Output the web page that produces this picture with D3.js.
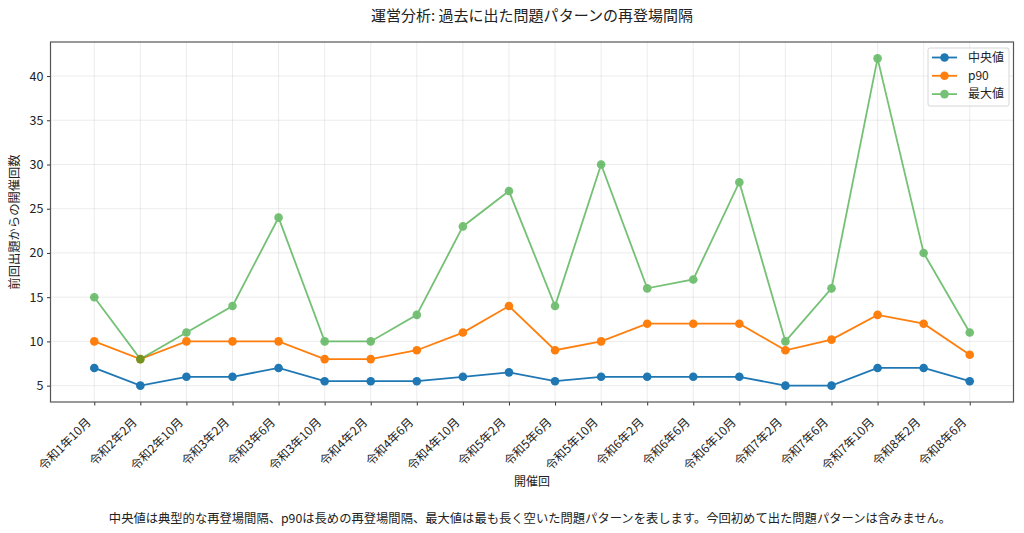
<!DOCTYPE html>
<html>
<head>
<meta charset="utf-8">
<script src="https://cdn.jsdelivr.net/npm/d3@7"></script>
<style>
  body { margin: 0; background: #fff; }
  svg, svg text { font-family: "Noto Sans CJK JP", "DejaVu Sans", sans-serif; }
</style>
</head>
<body>
<svg id="chart"></svg>
<script>
const categories = ["令和1年10月", "令和2年2月", "令和2年10月", "令和3年2月", "令和3年6月",
  "令和3年10月", "令和4年2月", "令和4年6月", "令和4年10月", "令和5年2月",
  "令和5年6月", "令和5年10月", "令和6年2月", "令和6年6月", "令和6年10月",
  "令和7年2月", "令和7年6月", "令和7年10月", "令和8年2月", "令和8年6月"];
const median = [7, 5, 6, 6, 7, 5.5, 5.5, 5.5, 6, 6.5, 5.5, 6, 6, 6, 6, 5, 5, 7, 7, 5.5];
const p90 = [10, 8, 10, 10, 10, 8, 8, 9, 11, 14, 9, 10, 12, 12, 12, 9, 10.2, 13, 12, 8.5];
const maxVal = [15, 8, 11, 14, 24, 10, 10, 13, 23, 27, 14, 30, 16, 17, 28, 10, 16, 42, 20, 11];
const yTicks = [5, 10, 15, 20, 25, 30, 35, 40];

const series = [
  { name: "中央値", values: median, color: "#1f77b4", alpha: 1 },
  { name: "p90", values: p90, color: "#ff7f0e", alpha: 1 },
  { name: "最大値", values: maxVal, color: "#2ca02c", alpha: 0.65 }
];

const W = 1024, H = 533;
const pLeft = 50.5, pRight = 1013.5, pTop = 42, pBottom = 402;
const FONT = '"Noto Sans CJK JP", "DejaVu Sans", sans-serif';

const svg = d3.select("#chart").attr("width", W).attr("height", H);

const n = categories.length;
const x = d3.scaleLinear().domain([-0.95, n - 1 + 0.95]).range([pLeft, pRight]);
const all = median.concat(p90, maxVal);
const lo = d3.min(all), hi = d3.max(all), pad = (hi - lo) * 0.05;
const y = d3.scaleLinear().domain([lo - pad, hi + pad]).range([pBottom, pTop]);

// grid
const grid = svg.append("g");
grid.selectAll(".gx").data(d3.range(n)).join("line")
  .attr("x1", d => x(d)).attr("x2", d => x(d))
  .attr("y1", pTop).attr("y2", pBottom)
  .attr("stroke", "#b0b0b0").attr("stroke-opacity", 0.3).attr("stroke-width", 0.8);
grid.selectAll(".gy").data(yTicks).join("line")
  .attr("x1", pLeft).attr("x2", pRight)
  .attr("y1", d => y(d)).attr("y2", d => y(d))
  .attr("stroke", "#b0b0b0").attr("stroke-opacity", 0.3).attr("stroke-width", 0.8);

// axes
const xAxis = svg.append("g")
  .attr("transform", `translate(0,${pBottom})`)
  .call(d3.axisBottom(x).tickValues(d3.range(n)).tickFormat(i => categories[i]).tickSize(3.5));
xAxis.attr("font-family", FONT);
xAxis.select(".domain").remove();
xAxis.selectAll("line").attr("stroke", "#333");
xAxis.selectAll("text")
  .attr("font-size", 12).attr("fill", "#222")
  .attr("text-anchor", "end")
  .attr("x", 0).attr("y", 0).attr("dy", null)
  .attr("transform", "translate(-3,21) rotate(-45)");

const yAxis = svg.append("g")
  .attr("transform", `translate(${pLeft},0)`)
  .call(d3.axisLeft(y).tickValues(yTicks).tickSize(3.5).tickPadding(3.5));
yAxis.attr("font-family", FONT);
yAxis.select(".domain").remove();
yAxis.selectAll("line").attr("stroke", "#333");
yAxis.selectAll("text").attr("font-size", 12.5).attr("fill", "#222");

// lines and markers
const line = d3.line().x((d, i) => x(i)).y(d => y(d));
series.forEach(s => {
  const g = svg.append("g").attr("opacity", s.alpha);
  g.append("path").datum(s.values)
    .attr("d", line).attr("fill", "none")
    .attr("stroke", s.color).attr("stroke-width", 1.8);
  g.selectAll("circle").data(s.values).join("circle")
    .attr("cx", (d, i) => x(i)).attr("cy", d => y(d))
    .attr("r", 4.3).attr("fill", s.color);
});

// frame
svg.append("rect")
  .attr("x", pLeft).attr("y", pTop)
  .attr("width", pRight - pLeft).attr("height", pBottom - pTop)
  .attr("fill", "none").attr("stroke", "#555").attr("stroke-width", 1.2);

// legend
const lg = svg.append("g").attr("transform", "translate(928,48)");
lg.append("rect").attr("width", 81).attr("height", 58).attr("rx", 2)
  .attr("fill", "#fff").attr("fill-opacity", 0.8)
  .attr("stroke", "#ccc").attr("stroke-width", 0.8);
series.forEach((s, i) => {
  const row = lg.append("g").attr("transform", `translate(0,${9.5 + i * 18.3})`).attr("opacity", s.alpha);
  row.append("line").attr("x1", 4).attr("x2", 29)
    .attr("stroke", s.color).attr("stroke-width", 1.8);
  row.append("circle").attr("cx", 16.5).attr("r", 4.3).attr("fill", s.color);
  lg.append("text").attr("x", 40).attr("y", 9.5 + i * 18.3).attr("dy", "0.36em")
    .attr("font-size", 12).attr("fill", "#222").text(s.name);
});

// texts
const cx = (pLeft + pRight) / 2;
svg.append("text").attr("x", cx).attr("y", 21).attr("text-anchor", "middle")
  .attr("font-size", 15).attr("fill", "#222")
  .text("運営分析: 過去に出た問題パターンの再登場間隔");
svg.append("text").attr("x", cx).attr("y", 486).attr("text-anchor", "middle")
  .attr("font-size", 12).attr("fill", "#222").text("開催回");
svg.append("text")
  .attr("transform", `translate(19,${(pTop + pBottom) / 2}) rotate(-90)`)
  .attr("text-anchor", "middle").attr("font-size", 12.3).attr("fill", "#222")
  .text("前回出題からの開催回数");
svg.append("text").attr("x", 530).attr("y", 523).attr("text-anchor", "middle")
  .attr("font-size", 12.3).attr("fill", "#222")
  .text("中央値は典型的な再登場間隔、p90は長めの再登場間隔、最大値は最も長く空いた問題パターンを表します。今回初めて出た問題パターンは含みません。");
</script>
</body>
</html>
